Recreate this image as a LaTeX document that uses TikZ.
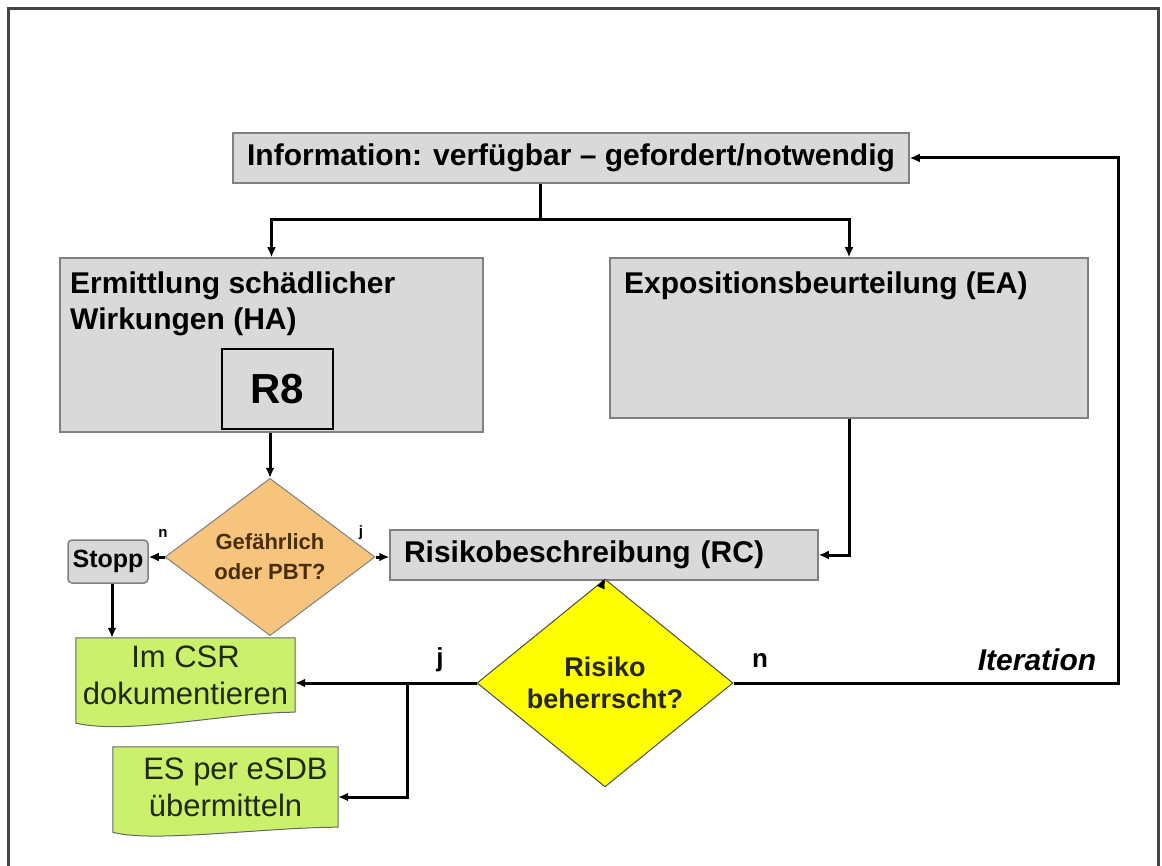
\documentclass[tikz,border=0pt]{standalone}
\usepackage{fontspec}
\setmainfont{Liberation Sans}
\usetikzlibrary{arrows.meta, positioning, shapes.geometric, calc, backgrounds}
\definecolor{boxgray}{HTML}{D9D9D9}
\definecolor{edgegray}{HTML}{808080}
\definecolor{framegray}{HTML}{454545}
\definecolor{bgpbt}{HTML}{F6C47C}
\definecolor{txtpbt}{HTML}{4A2E08}
\definecolor{bgrisk}{HTML}{FFFF00}
\definecolor{bgdoc}{HTML}{CBF06C}
\definecolor{txtdoc}{HTML}{1F2A08}
\tikzset{
  blkinfo/.style = {draw=edgegray, line width=1.5pt, fill=boxgray,
                    minimum width=676pt, minimum height=50pt,
                    font=\fontsize{30}{36}\selectfont\bfseries, inner sep=0pt},
  blkbig/.style  = {draw=edgegray, line width=1.5pt, fill=boxgray, inner sep=0pt},
  blktxt/.style  = {anchor=north west, align=left, inner sep=0pt,
                    font=\fontsize{30}{36}\selectfont\bfseries},
  blkr8/.style   = {draw=black, line width=1.2pt, fill=boxgray,
                    minimum width=111pt, minimum height=80pt,
                    font=\fontsize{42}{48}\selectfont\bfseries, inner sep=0pt},
  blkrc/.style   = {draw=edgegray, line width=1.5pt, fill=boxgray,
                    minimum width=428pt, minimum height=50pt, text width=400pt,
                    align=left, inner xsep=14pt, inner ysep=0pt,
                    font=\fontsize{30}{36}\selectfont\bfseries},
  blkstop/.style = {draw=edgegray, line width=1.5pt, rounded corners=4pt, fill=boxgray,
                    minimum width=80pt, minimum height=43pt, inner sep=0pt,
                    font=\fontsize{25}{30}\selectfont\bfseries},
  decpbt/.style  = {diamond, draw=edgegray, line width=1pt, fill=bgpbt, text=txtpbt,
                    minimum width=210pt, minimum height=112pt, inner sep=0pt,
                    align=center, font=\fontsize{22}{30}\selectfont\bfseries},
  decrisk/.style = {diamond, draw=black!70, line width=1pt, fill=bgrisk, text=black!85,
                    minimum width=256pt, minimum height=160pt, inner sep=0pt,
                    align=center, font=\fontsize{27}{32}\selectfont\bfseries},
  blkdoc/.style  = {rectangle, text=txtdoc, inner sep=0pt, align=center,
                    font=\fontsize{31}{37}\selectfont},
  docshape/.style = {draw=black!60, line width=1pt, fill=bgdoc},
  flow/.style    = {-{Latex[length=10pt,width=9pt]}, line width=3pt},
  link/.style    = {line width=3pt},
  lblbig/.style  = {font=\fontsize{26}{30}\selectfont\bfseries, inner sep=0pt},
  lblsm/.style   = {font=\fontsize{15}{18}\selectfont\bfseries, inner sep=0pt},
}

\begin{document}
\begin{tikzpicture}[x=1pt, y=-1pt]
    \useasboundingbox (0,0) rectangle (1162,866);
    \draw[framegray, line width=3pt] (8,880) -- (8,9) -- (1158,9) -- (1158,880);

    % Row 1 : information
    \node[blkinfo] (info) at (571,158) {Information: verfügbar -- gefordert/notwendig};

    % Row 2 : hazard and exposure
    \node[blkbig, minimum width=423pt, minimum height=174pt] (ha) at (271.5,345) {};
    \node[blktxt] (hatxt) at (70,272) {Ermittlung schädlicher\\Wirkungen (HA)};
    \node[blkr8] (r8) at (277.5,389) {R8};
    \node[blkbig, minimum width=478pt, minimum height=160pt] (ea) at (849,338) {};
    \node[blktxt] (eatxt) at (624,272) {Expositionsbeurteilung (EA)};

    % Row 3 : classification and risk characterisation
    \node[decpbt]  (pbt)   at (270,557) {Gefährlich\\oder PBT?};
    \node[blkstop] (stopp) at (108,561.5) {Stopp};
    \node[blkrc]   (rc)    at (604,555) {Risikobeschreibung (RC)};

    % Row 4 : decision and documents
    \node[decrisk] (risk) at (605,683) {Risiko\\beherrscht?};
    \node[blkdoc, minimum width=219pt, minimum height=74pt] (csr) at (185.5,675) {Im CSR\\dokumentieren};
    \node[blkdoc, minimum width=225pt, minimum height=80pt] (esdb) at (225.5,787) {\hspace*{20pt}ES per eSDB\\übermitteln};

    % document outlines behind the texts
    \begin{scope}[on background layer]
      \draw[docshape] (csr.north west) -- (csr.north east) -- (csr.south east)
        .. controls +(-65,0) and +(54,12) .. ($(csr.south west)+(0,11)$) -- cycle;
      \draw[docshape] (esdb.north west) -- (esdb.north east) -- (esdb.south east)
        .. controls +(-70,0) and +(37,11) .. ($(esdb.south west)+(0,5)$) -- cycle;
    \end{scope}

    \coordinate (split)  at (540,220);
    \coordinate (branch) at (407,683);
    \coordinate (iter)   at (1118,158);

    \draw[link] (info.south -| split) -- (split);
    \draw[flow] (split) -| (ha.north);
    \draw[flow] (split) -| (ea.north);
    \draw[flow] (ha.south -| pbt.north) -- (pbt.north);
    \draw[flow] (pbt.west) -- (pbt.west -| stopp.east);
    \draw[flow] (pbt.east) -- (pbt.east -| rc.west);
    \draw[flow] (ea.south) |- (rc.east);
    \draw[flow] (rc.south) -- (risk.north);
    \draw[flow] (risk.east) -| (iter) -- (info.east |- iter);
    \draw[flow] (risk.west) -- (risk.west -| csr.east);
    \draw[flow] (branch) |- ($(esdb.east)+(0,10)$);
    \draw[flow] ($(stopp.south)+(4,0)$) -- ($(stopp.south |- csr.north)+(4,0)$);

    \node[lblsm]  (pbtn)  at (163,533)  {n};
    \node[lblsm]  (pbtj)  at (361,533)  {j};
    \node[lblbig] (riskj) at (440,660)  {j};
    \node[lblbig] (riskn) at (760,660)  {n};
    \node[lblbig, font=\fontsize{30}{34}\selectfont\bfseries\itshape] (itlbl) at (1037,660) {Iteration};
  \end{tikzpicture}
\end{document}
